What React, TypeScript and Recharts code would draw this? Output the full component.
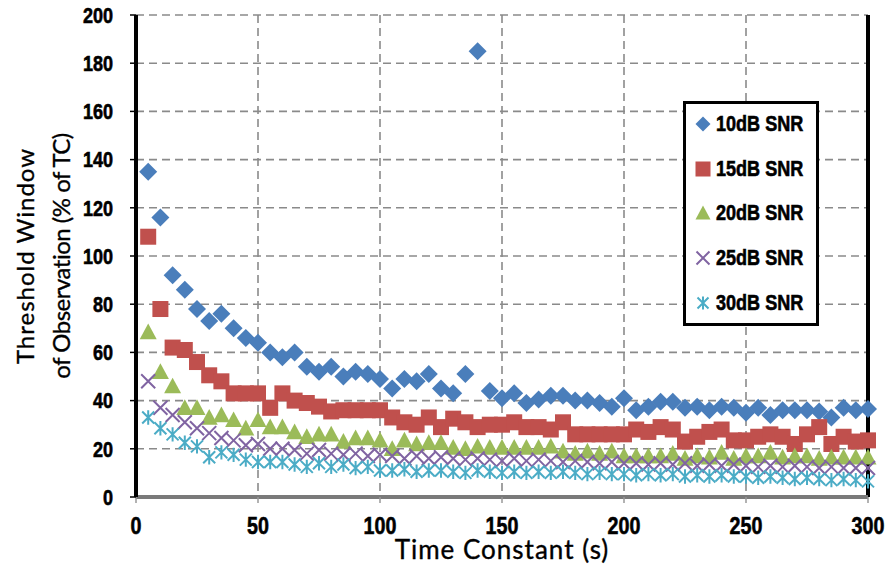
import React from "react";
import {
  ScatterChart,
  Scatter,
  XAxis,
  YAxis,
  CartesianGrid,
  Legend,
  ReferenceLine,
  Label,
} from "recharts";

// time constant (s) of every sample
const timeConstants = [
  5, 10, 15, 20, 25, 30, 35, 40, 45, 50,
  55, 60, 65, 70, 75, 80, 85, 90, 95, 100,
  105, 110, 115, 120, 125, 130, 135, 140, 145, 150,
  155, 160, 165, 170, 175, 180, 185, 190, 195, 200,
  205, 210, 215, 220, 225, 230, 235, 240, 245, 250,
  255, 260, 265, 270, 275, 280, 285, 290, 295, 300,
];

// threshold window, % of TC
const snr10 = [
  135, 116, 92, 86, 78, 73, 76, 70, 66, 64,
  60, 58, 60, 54, 52, 54, 50, 52, 51, 49,
  45, 49, 48, 51, 45, 43, 51, 185, 44, 41,
  43, 39, 40.5, 42, 42, 40, 40, 39, 37.5, 41,
  36, 37.5, 39.5, 39.5, 37, 37.5, 36, 37.5, 37, 35,
  37, 34, 36, 36, 36, 35.5, 33, 37, 36, 36.5,
];
const snr15 = [
  108, 78, 62, 61, 56, 50.5, 48, 43, 43, 43,
  37, 43, 40, 39, 37.5, 35.5, 36, 36, 36, 36,
  33, 31, 30, 33, 29, 32.5, 31, 29, 30, 30,
  31, 29, 29, 28, 31, 26, 26, 26, 26, 26,
  28, 27, 29, 28, 23, 25, 27, 28, 23.5, 23.5,
  25, 26, 25, 22, 26, 29, 22, 25, 23, 23.5,
];
const snr20 = [
  68.5, 52, 46, 37, 37, 33, 34, 32, 28.5, 32,
  29, 29, 27, 25, 26, 26, 23, 24.5, 24.5, 23.5,
  20, 23.5, 22, 22.5, 22.5, 20.5, 20, 21, 20.5, 20.5,
  20.5, 20.5, 20.5, 21, 19, 18, 19, 18, 19, 17,
  17, 17, 17, 18, 16, 17, 16.5, 18.5, 16, 17,
  17, 18.5, 16.5, 17, 17, 16, 16.5, 16.5, 16.5, 16.5,
];
const snr25 = [
  48, 37, 34, 31, 28.5, 26.5, 24.5, 23.5, 21.5, 22,
  20, 20, 19.5, 18, 19.5, 18, 17.5, 18, 17, 17.5,
  17, 16, 17, 16, 16.5, 16, 15.5, 16, 15.5, 15,
  16, 15, 15.5, 15, 14.5, 15, 14.5, 14, 14.5, 14,
  14, 13.5, 14, 13.5, 14, 13, 13.5, 13, 13.5, 13,
  12.5, 13, 12.5, 13, 12.5, 12, 12.5, 12, 12, 12,
];
const snr30 = [
  33, 28.5, 26, 22.5, 21, 16.5, 18.5, 17.5, 15.5, 14.5,
  14.5, 14.5, 13.5, 12.5, 14, 12.5, 13.5, 12, 12.5, 11,
  11, 11.5, 10.5, 11, 11, 10.5, 10, 11, 10.5, 10,
  10.5, 10, 10.5, 10, 10.5, 10, 9.5, 10, 9.5, 9.5,
  9, 9.5, 9, 9.5, 8.5, 9, 8.5, 9, 8.5, 8.5,
  8, 8.5, 8, 7.5, 8, 7.5, 7, 7.5, 7, 6.5,
];

const xTicks = [0, 50, 100, 150, 200, 250, 300];
const yTicks = [0, 20, 40, 60, 80, 100, 120, 140, 160, 180, 200];

const toPoints = (values: number[]) =>
  timeConstants.map((t, i) => ({ t, v: values[i] }));

type MarkerProps = { cx?: number; cy?: number; s?: number; color: string };

const Diamond = ({ cx = 0, cy = 0, s = 9, color }: MarkerProps) => (
  <polygon
    points={`${cx},${cy - s} ${cx + s},${cy} ${cx},${cy + s} ${cx - s},${cy}`}
    fill={color}
  />
);

const Square = ({ cx = 0, cy = 0, s = 8, color }: MarkerProps) => (
  <rect x={cx - s} y={cy - s} width={s * 2} height={s * 2} fill={color} />
);

const Triangle = ({ cx = 0, cy = 0, s = 8.5, color }: MarkerProps) => (
  <polygon
    points={`${cx},${cy - s} ${cx + s},${cy + s * 0.85} ${cx - s},${cy + s * 0.85}`}
    fill={color}
  />
);

const Cross = ({ cx = 0, cy = 0, s = 7, color }: MarkerProps) => (
  <path
    d={`M${cx - s},${cy - s}L${cx + s},${cy + s}M${cx - s},${cy + s}L${cx + s},${cy - s}`}
    stroke={color}
    strokeWidth={2}
  />
);

const Star = ({ cx = 0, cy = 0, s = 6, color }: MarkerProps) => (
  <path
    d={`M${cx - s},${cy - s}L${cx + s},${cy + s}M${cx - s},${cy + s}L${cx + s},${cy - s}M${cx},${cy - s * 1.2}L${cx},${cy + s * 1.2}`}
    stroke={color}
    strokeWidth={2}
  />
);

const series = [
  { name: "10dB SNR", values: snr10, color: "#4a7ebb", Marker: Diamond, legendSize: 7.5 },
  { name: "15dB SNR", values: snr15, color: "#c0504d", Marker: Square, legendSize: 7.5 },
  { name: "20dB SNR", values: snr20, color: "#9bbb59", Marker: Triangle, legendSize: 7.5 },
  { name: "25dB SNR", values: snr25, color: "#8064a2", Marker: Cross, legendSize: 6.5 },
  { name: "30dB SNR", values: snr30, color: "#4bacc6", Marker: Star, legendSize: 5.5 },
];

// bold sans squeezed horizontally, close to a narrow bold face
const tickFont = "'Liberation Sans', Arial, sans-serif";
const narrow = 0.82;
const titleFont = "Lato, 'Open Sans', sans-serif";

const YTick = ({ x, y, payload }: any) => (
  <g transform={`translate(${x},${y}) scale(${narrow},1)`}>
    <text
      textAnchor="end"
      dy="0.355em"
      fontFamily={tickFont}
      fontWeight={700}
      fontSize={22}
      fill="#000"
      stroke="#000"
      strokeWidth={0.6}
    >
      {payload.value}
    </text>
  </g>
);

const XTick = ({ x, y, payload }: any) => (
  <g transform={`translate(${x},${y}) scale(${narrow},1)`}>
    <text
      textAnchor="middle"
      dy="0.71em"
      fontFamily={tickFont}
      fontWeight={700}
      fontSize={24}
      fill="#000"
      stroke="#000"
      strokeWidth={0.6}
    >
      {payload.value}
    </text>
  </g>
);

const LegendBox = () => (
  <div
    style={{
      width: 130,
      height: 219,
      border: "3px solid #000",
      background: "#fff",
      boxSizing: "content-box",
    }}
  >
    <div style={{ marginTop: -2 }}>
      {series.map(({ name, color, Marker, legendSize }) => (
        <div
          key={name}
          style={{ display: "flex", alignItems: "center", height: 44.6, whiteSpace: "nowrap" }}
        >
          <svg width={30} height={24} style={{ flex: "none" }}>
            <Marker cx={17} cy={12} s={legendSize} color={color} />
          </svg>
          <span
            style={{
              display: "inline-block",
              fontFamily: tickFont,
              fontWeight: 700,
              fontSize: 22,
              color: "#000",
              WebkitTextStroke: "0.6px #000",
              transform: `scaleX(${narrow})`,
              transformOrigin: "left center",
            }}
          >
            {name}
          </span>
        </div>
      ))}
    </div>
  </div>
);

const YTitle = ({ viewBox }: any) => {
  const cy = viewBox ? viewBox.y + viewBox.height / 2 : 256;
  return (
    <g
      fontFamily={titleFont}
      fontSize={24}
      fill="#000"
      stroke="#000"
      strokeWidth={0.35}
      textAnchor="middle"
    >
      <text x={34} y={cy} letterSpacing={1} transform={`rotate(-90 34 ${cy})`}>
        Threshold Window
      </text>
      <text x={70} y={cy} letterSpacing={-0.5} transform={`rotate(-90 70 ${cy})`}>
        of Observation (% of TC)
      </text>
    </g>
  );
};

export default function App() {
  return (
    <div style={{ position: "absolute", left: 0, top: 0, background: "#fff" }}>
      <ScatterChart
        width={890}
        height={573}
        margin={{ top: 15, right: 22, bottom: 0, left: 0 }}
      >
        <CartesianGrid
          stroke="#8a8a8a"
          strokeWidth={1.6}
          strokeDasharray="8 5"
        />
        <XAxis
          type="number"
          dataKey="t"
          domain={[0, 300]}
          ticks={xTicks}
          interval={0}
          height={76}
          axisLine={{ stroke: "#7a7a7a", strokeWidth: 4 }}
          tickLine={{ stroke: "#999", strokeWidth: 1.5 }}
          tickSize={6}
          tickMargin={14}
          tick={<XTick />}
        >
          <Label
            value="Time Constant (s)"
            position="insideBottom"
            offset={14}
            style={{
              fontFamily: titleFont,
              fontSize: 26,
              fill: "#000",
              stroke: "#000",
              strokeWidth: 0.35,
              letterSpacing: 1,
            }}
          />
        </XAxis>
        <YAxis
          type="number"
          dataKey="v"
          domain={[0, 200]}
          ticks={yTicks}
          interval={0}
          width={136}
          axisLine={{ stroke: "#000", strokeWidth: 4 }}
          tickLine={{ stroke: "#000", strokeWidth: 1.5 }}
          tickSize={6}
          tickMargin={17}
          tick={<YTick />}
        >
          <Label content={<YTitle />} position="center" />
        </YAxis>
        <ReferenceLine x={300} stroke="#000" strokeWidth={4} />
        <ReferenceLine y={0} stroke="#c4c4c4" strokeWidth={1.2} />
        {series.map(({ name, values, color, Marker }) => (
          <Scatter
            key={name}
            name={name}
            data={toPoints(values)}
            fill={color}
            isAnimationActive={false}
            shape={(p: any) => <Marker cx={p.cx} cy={p.cy} color={color} />}
          />
        ))}
        <Legend
          layout="vertical"
          align="center"
          verticalAlign="middle"
          content={() => <LegendBox />}
          wrapperStyle={{ position: "absolute", left: 683, top: 101, width: 136, height: 226 }}
        />
      </ScatterChart>
    </div>
  );
}
